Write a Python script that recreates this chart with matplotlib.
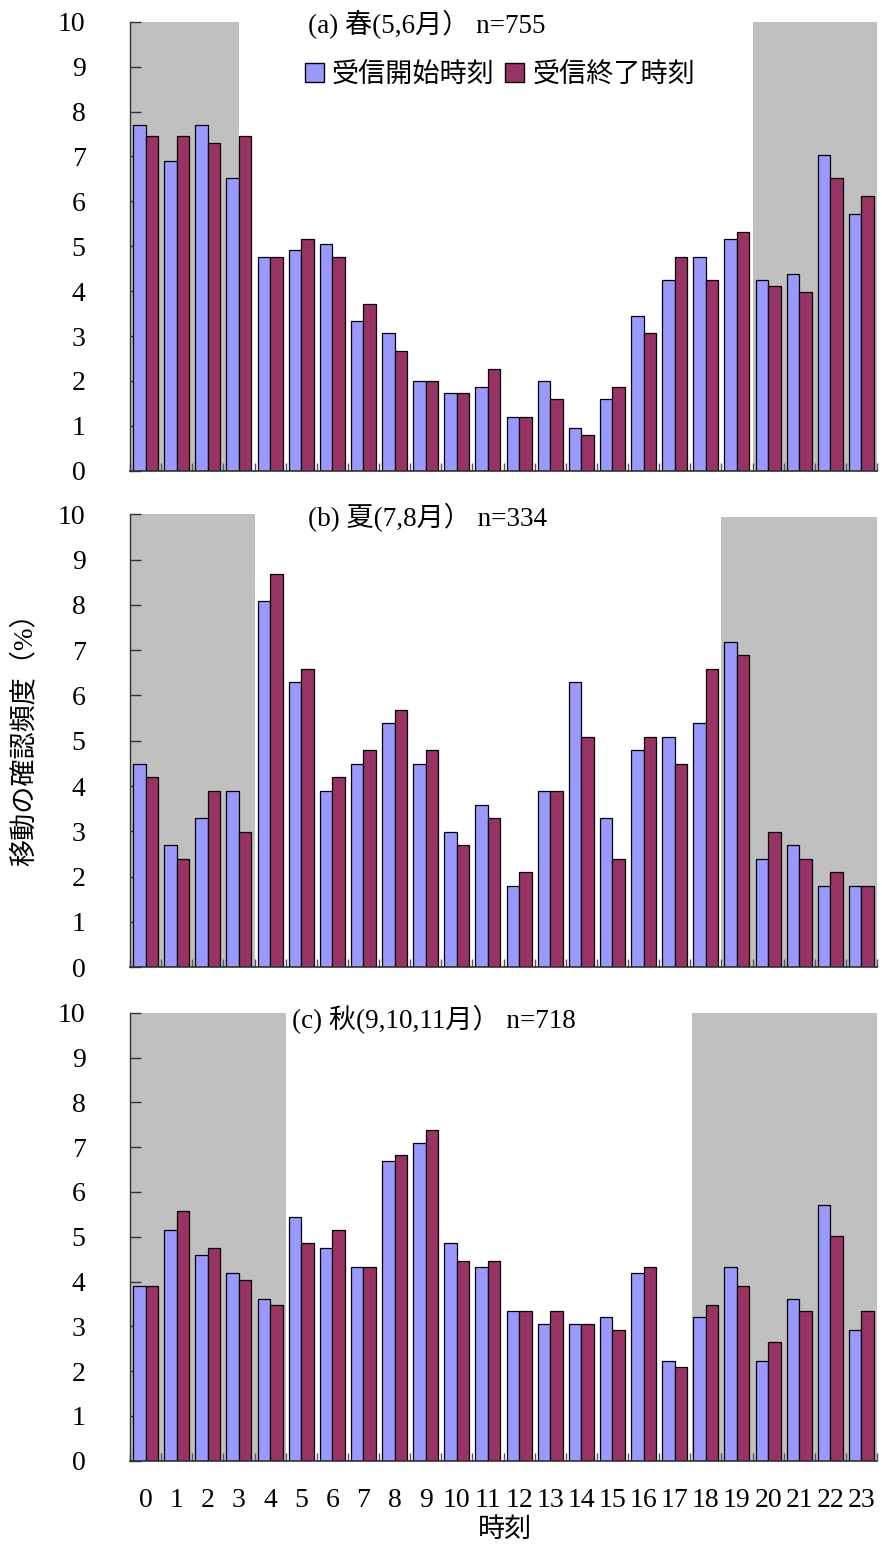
import numpy as np
import matplotlib
matplotlib.use("Agg")
import matplotlib.pyplot as plt
from matplotlib.patches import Patch

plt.rcParams['font.family'] = ['Liberation Serif', 'Noto Sans CJK JP', 'DejaVu Sans']

hours = [str(h) for h in range(24)]

spring_start = [7.70, 6.90, 7.70, 6.51, 4.77, 4.92, 5.04, 3.33, 3.06, 2.00, 1.74, 1.87,
                1.20, 2.00, 0.94, 1.60, 3.45, 4.25, 4.77, 5.17, 4.25, 4.39, 7.04, 5.72]
spring_end = [7.45, 7.45, 7.30, 7.45, 4.77, 5.17, 4.77, 3.72, 2.67, 2.00, 1.74, 2.27,
              1.20, 1.60, 0.80, 1.87, 3.06, 4.77, 4.25, 5.32, 4.12, 3.99, 6.51, 6.11]

summer_start = [4.49, 2.69, 3.29, 3.89, 8.08, 6.29, 3.89, 4.49, 5.39, 4.49, 2.99, 3.59,
                1.80, 3.89, 6.29, 3.29, 4.79, 5.09, 5.39, 7.19, 2.40, 2.69, 1.80, 1.80]
summer_end = [4.19, 2.40, 3.89, 2.99, 8.68, 6.59, 4.19, 4.79, 5.69, 4.79, 2.69, 3.29,
              2.10, 3.89, 5.09, 2.40, 5.09, 4.49, 6.59, 6.89, 2.99, 2.40, 2.10, 1.80]

autumn_start = [3.90, 5.15, 4.60, 4.18, 3.62, 5.43, 4.74, 4.32, 6.69, 7.10, 4.87, 4.32,
                3.34, 3.06, 3.06, 3.20, 4.18, 2.23, 3.20, 4.32, 2.23, 3.62, 5.71, 2.92]
autumn_end = [3.90, 5.57, 4.74, 4.04, 3.48, 4.87, 5.15, 4.32, 6.82, 7.38, 4.46, 4.46,
              3.34, 3.34, 3.06, 2.92, 4.32, 2.09, 3.48, 3.90, 2.65, 3.34, 5.01, 3.34]

titles = ["(a) 春(5,6月） n=755", "(b) 夏(7,8月） n=334", "(c) 秋(9,10,11月） n=718"]
# night shading (start hour, end hour, top value)
night_spring = [(0.0, 3.5, 10.0), (20.0, 24.0, 10.0)]
night_summer = [(0.0, 4.0, 10.0), (19.0, 24.0, 9.93)]
night_autumn = [(0.0, 5.0, 10.0), (18.05, 24.0, 10.0)]

series_names = ["受信開始時刻", "受信終了時刻"]
c_start = '#9999FF'
c_end = '#993366'
c_night = '#C0C0C0'

FS_NUM = 20
FS_TXT = 19.5

W, H = 882, 1544
fig = plt.figure(figsize=(W / 100, H / 100), dpi=100)

panels = [
    (spring_start, spring_end, night_spring, titles[0], (130, 877, 21.7, 470.7), (308, 25)),
    (summer_start, summer_end, night_summer, titles[1], (130, 877, 514.3, 967.3), (308, 518)),
    (autumn_start, autumn_end, night_autumn, titles[2], (130, 877, 1012.7, 1460.7), (292, 1020)),
]

x = np.arange(24)
for i, (s, e, night, title, (l, r, t, b), (tx, ty)) in enumerate(panels):
    ax = fig.add_axes([l / W, 1 - b / H, (r - l) / W, (b - t) / H])
    ax.set_xlim(-0.5, 23.5)
    ax.set_ylim(0, 10)
    for (h0, h1, top) in night:
        ax.axvspan(h0 - 0.5, h1 - 0.5, ymin=0, ymax=top / 10.0, color=c_night, lw=0, zorder=0)
    ax.bar(x - 0.2, s, width=0.4, color=c_start, edgecolor='black', linewidth=0.9, zorder=2)
    ax.bar(x + 0.2, e, width=0.4, color=c_end, edgecolor='black', linewidth=0.9, zorder=2)
    for sp in ['top', 'right']:
        ax.spines[sp].set_visible(False)
    ax.spines['left'].set_color('#333333')
    ax.spines['bottom'].set_color('#333333')
    ax.spines['left'].set_linewidth(1.0)
    ax.spines['bottom'].set_linewidth(1.2)
    ax.spines['left'].set_zorder(3)
    ax.spines['bottom'].set_zorder(3)
    ax.set_yticks(range(0, 11))
    ax.tick_params(axis='y', direction='in', length=8, width=1, color='#333333',
                   labelsize=FS_NUM, pad=32)
    ax.set_xticks(x)
    ax.set_xticks(np.arange(-0.5, 24, 1.0), minor=True)
    ax.tick_params(axis='x', which='major', length=0, pad=20, labelsize=FS_NUM)
    ax.tick_params(axis='x', which='minor', direction='in', length=6, width=1, color='#555555')
    if i < 2:
        ax.set_xticklabels([])
    else:
        ax.set_xticklabels(hours)
    ax.set_facecolor('none')
    fig.text(tx / W, 1 - ty / H, title, fontsize=FS_TXT, ha='left', va='center')

fig.text(505 / W, 1 - 1530 / H, "時刻", fontsize=FS_TXT, ha='center', va='center')
fig.text(25 / W, 1 - 733 / H, "移動の確認頻度（%）", fontsize=FS_TXT, ha='center', va='center',
         rotation=90)

handles = [Patch(facecolor=c_start, edgecolor='black', linewidth=1.0),
           Patch(facecolor=c_end, edgecolor='black', linewidth=1.0)]
fig.legend(handles, series_names, loc='center', bbox_to_anchor=(500 / W, 1 - 75 / H),
           ncol=2, frameon=False, fontsize=FS_TXT, handlelength=0.7, handleheight=0.7,
           handletextpad=0.3, columnspacing=0.4, borderpad=0)

fig.savefig("out.png", dpi=100)
